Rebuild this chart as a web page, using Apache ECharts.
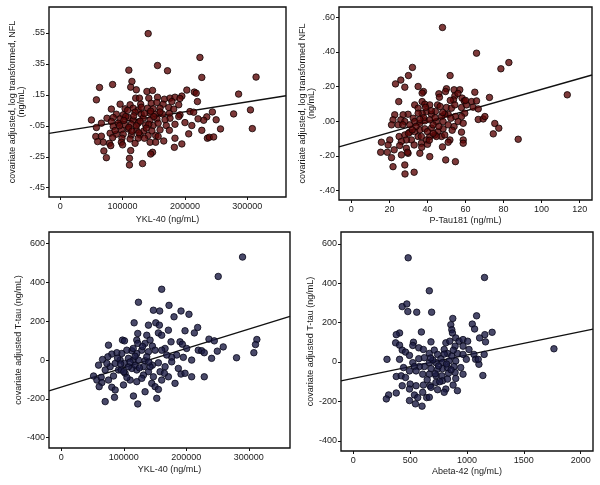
<!DOCTYPE html>
<html><head><meta charset="utf-8">
<script src="https://cdn.jsdelivr.net/npm/echarts@6/dist/echarts.min.js"></script>
<style>html,body{margin:0;padding:0;background:#fff}#c{width:600px;height:485px}</style>
</head><body><div id="c"></div>
<script>
// ---- Panel 1: YKL-40 vs NFL ----
const p1_ykl = [224000,156000,172000,110000,227000,115000,63000,84000,113000,122000,139000,148000,203000,215000,218000,58000,121000,127000,142000,156000,167000,176000,184000,195000,192000,220000,96000,112000,129000,146000,155000,165000,179000,190000,82000,104000,117000,125000,140000,149000,160000,174000,182000,208000,120000,130000,144000,153000,164000,175000,192000,214000,235000,230000,90000,101000,75000,85000,96000,109000,117000,133000,144000,155000,176000,190000,200000,221000,50000,66000,82000,93000,104000,114000,125000,137000,149000,157000,170000,184000,211000,58000,85000,98000,109000,122000,134000,147000,160000,175000,227000,80000,90000,101000,114000,128000,141000,153000,57000,66000,84000,99000,112000,125000,157000,166000,184000,195000,206000,236000,69000,79000,98000,120000,144000,153000,81000,100000,183000,60000,70000,113000,148000,145000,74000,111000,111000,132000,141000,244000,278000,305000,250000,257000,308000,239000,246000,286000,314000,105000,118000,128000,135000,142000,150000,110000,122000,138000,95000,102000,115000,130000,145000,160000,168000,88000,126000,135000,108000];
const p1_nfl = [0.392,0.340,0.306,0.310,0.263,0.237,0.198,0.217,0.200,0.183,0.172,0.179,0.181,0.168,0.161,0.118,0.129,0.129,0.129,0.135,0.122,0.129,0.135,0.142,0.127,0.107,0.090,0.086,0.090,0.096,0.101,0.090,0.107,0.086,0.058,0.060,0.064,0.053,0.064,0.060,0.064,0.068,0.058,0.042,0.038,0.025,0.032,0.025,0.027,0.030,0.021,0.038,0.008,-0.014,0.025,0.021,-0.001,0.004,-0.005,0.004,-0.012,-0.001,-0.012,-0.005,-0.001,0.010,-0.029,-0.005,-0.012,-0.033,-0.022,-0.033,-0.044,-0.040,-0.033,-0.044,-0.048,-0.033,-0.048,-0.040,-0.048,-0.061,-0.054,-0.076,-0.070,-0.076,-0.083,-0.083,-0.076,-0.079,-0.079,-0.098,-0.104,-0.104,-0.109,-0.109,-0.113,-0.113,-0.119,-0.117,-0.126,-0.130,-0.135,-0.130,-0.119,-0.148,-0.130,-0.167,-0.102,-0.130,-0.156,-0.163,-0.156,-0.163,-0.156,-0.156,-0.178,-0.173,-0.189,-0.152,-0.212,-0.210,-0.221,-0.232,-0.256,-0.260,-0.303,-0.294,0.546,0.040,0.027,0.053,-0.011,-0.070,-0.068,-0.124,-0.122,0.155,0.265,0.010,0.015,-0.020,0.030,-0.040,0.010,-0.060,-0.050,-0.065,-0.050,-0.015,-0.085,0.070,0.045,0.040,-0.010,-0.080,-0.095,-0.130,0.050];
const p1_fit = [[-18000,-0.099],[362000,0.144]];
const p1_xticks = [0,100000,200000,300000];
const p1_yticks = [-0.45,-0.25,-0.05,0.15,0.35,0.55];

// ---- Panel 2: P-Tau181 vs NFL ----
const p2_ptau = [78.6,32.1,30.0,26.0,23.2,28.1,51.9,35.1,37.9,37.2,24.9,46.0,46.3,50.0,49.5,54.0,57.0,64.9,54.4,53.7,58.2,59.3,63.2,65.8,72.6,33.3,35.1,37.2,38.6,41.2,45.3,46.7,50.0,52.6,50.9,54.4,57.9,60.5,64.0,66.7,59.6,57.9,54.7,52.3,49.1,47.4,44.2,42.1,39.5,37.2,35.1,32.5,29.8,27.2,26.0,22.8,21.9,21.1,24.6,28.1,30.7,33.3,36.0,38.6,41.2,44.7,48.2,50.9,54.0,56.1,58.8,66.7,69.3,70.2,75.4,74.6,77.5,25.1,28.1,30.7,33.3,36.0,38.6,42.1,45.6,48.2,53.0,57.9,58.8,58.8,51.8,47.4,43.9,41.2,39.5,35.1,31.6,28.9,26.3,20.2,19.3,15.8,15.4,18.9,22.5,21.1,25.4,28.9,33.0,36.8,40.0,29.8,36.0,41.2,26.3,47.9,50.9,49.6,54.7,21.9,28.1,28.2,33.0,29.5,44.7,36.8,43.0,49.1,47.9,65.8,82.8,113.5,87.7,38,40,42,36,44,46,34,39,41,37,43,48,52,56,60,30,32,27];
const p2_nfl = [0.302,0.310,0.263,0.237,0.215,0.196,0.263,0.200,0.171,0.162,0.113,0.158,0.138,0.187,0.171,0.181,0.181,0.167,0.146,0.123,0.133,0.117,0.113,0.117,0.137,0.094,0.075,0.113,0.098,0.094,0.094,0.085,0.079,0.075,0.040,0.094,0.079,0.094,0.081,0.071,0.046,0.027,0.027,0.017,0.040,0.027,0.056,0.040,0.056,0.044,0.046,0.017,0.040,0.037,0.008,0.037,0.008,-0.021,-0.021,-0.002,-0.021,-0.002,-0.012,0.002,0.008,-0.002,-0.002,-0.021,-0.031,-0.002,-0.012,0.010,0.013,0.027,-0.013,-0.073,-0.040,-0.088,-0.079,-0.063,-0.060,-0.050,-0.044,-0.040,-0.060,-0.044,-0.052,-0.063,-0.108,-0.127,-0.108,-0.088,-0.079,-0.088,-0.108,-0.088,-0.108,-0.108,-0.117,-0.108,-0.137,-0.121,-0.179,-0.179,-0.165,-0.210,-0.140,-0.156,-0.137,-0.127,-0.133,-0.185,-0.185,-0.204,-0.194,-0.148,-0.121,-0.223,-0.233,-0.262,-0.252,-0.304,-0.294,-0.179,-0.088,-0.088,-0.021,-0.079,0.540,0.392,0.338,0.152,-0.104,0.02,-0.06,0.06,0.01,0.02,-0.03,-0.03,0.08,-0.11,-0.15,-0.07,0.05,0.12,0.16,0.12,-0.07,-0.05,-0.02];
const p2_fit = [[-6.5,-0.148],[126.5,0.266]];
const p2_xticks = [0,20,40,60,80,100,120];
const p2_yticks = [-0.4,-0.2,0,0.2,0.4,0.6];

// ---- Panel 3: YKL-40 vs T-tau ----
const p3_ykl = [160600,123400,172300,147300,157400,191500,204200,116500,151100,156900,180300,139400,171300,197900,212800,218100,122300,136700,97900,75500,101100,120700,122300,134000,142000,145700,155300,160600,166000,175500,189900,193600,200500,236200,244700,219100,224500,228700,240400,208500,195200,184600,176600,168600,160600,150000,139400,128700,120700,112800,104800,96800,88800,80800,74500,66000,59600,51600,56900,63800,70200,78200,86200,94100,101100,107400,115400,123400,134000,145700,155300,166000,176600,187200,191500,181900,197900,208500,228700,171300,158000,147300,139400,131400,120700,112800,102100,91500,83500,75500,64900,60600,80800,86200,99500,110100,120700,128700,144700,150000,155300,134000,115400,85100,70200,122300,152700,160600,164900,142000,107400,95700,72900,118100,136700,131400,289900,251000,312800,310600,308000,280300,259000,249500,110000,118000,125000,100000,90000,105000,130000,140000,95000,115000];
const p3_ttau = [365,298,282,257,253,253,236,192,192,180,223,180,154,151,140,168,137,128,103,77,99,103,86,86,103,72,140,128,60,94,94,82,60,108,99,51,48,38,9,0,14,26,14,26,51,51,43,51,34,48,51,34,38,31,17,3,-26,-82,-103,-89,-51,-34,-17,0,-17,9,0,0,-3,-26,-14,-34,-9,-43,-72,-120,-68,-86,-86,-86,-60,-86,-60,-77,-51,-43,-68,-51,-82,-103,-116,-137,-140,-154,-128,-103,-111,-94,-120,-137,-151,-163,-185,-192,-214,-226,-197,-103,-68,-34,-34,-51,-17,-26,17,-34,531,431,106,80,38,12,68,46,-10,20,-40,-60,10,-90,70,-10,-20,60];
const p3_fit = [[-19650,-158.6],[365800,225.6]];
const p3_xticks = [0,100000,200000,300000];
const p3_yticks = [-400,-200,0,200,400,600];

// ---- Panel 4: Abeta-42 vs T-tau ----
const p4_abeta = [668.6,430.2,470.9,479.7,558.1,689.0,598.8,875.0,1084.3,857.6,1046.5,1066.9,866.3,872.1,1157.0,1220.9,1110.5,1162.8,407.0,377.9,372.1,407.0,430.2,529.1,523.3,575.6,616.3,683.1,814.0,799.4,848.8,901.2,930.2,965.1,1005.8,895.4,965.1,1017.5,1061.1,1151.2,1075.6,1104.7,1139.5,1098.8,296.5,407.0,459.3,441.9,494.2,523.3,575.6,625.0,668.6,712.2,741.3,770.4,828.5,866.3,915.7,965.1,994.2,901.2,843.0,784.9,726.8,668.6,625.0,581.4,537.8,683.1,741.3,784.9,828.5,886.6,944.8,965.1,895.4,837.2,779.1,726.8,668.6,610.5,552.3,494.2,377.9,421.5,459.3,500.0,430.2,494.2,552.3,616.3,674.4,726.8,784.9,828.5,901.2,877.9,814.0,741.3,683.1,610.5,537.8,566.9,645.4,668.6,494.2,546.5,604.7,311.0,290.7,377.9,799.4,915.7,482.6,1154,1764.5,700,750,820,680,720,800,860,760,650,880];
const p4_ttau = [361.6,281.2,294.6,256.1,252.8,252.8,152.3,221.0,234.4,189.2,192.5,167.4,164.1,147.3,138.9,150.7,122.2,102.1,147.3,138.9,97.1,85.4,60.3,100.4,83.7,72.0,63.6,102.1,97.1,63.6,105.5,122.2,105.5,113.8,105.5,80.4,80.4,63.6,38.5,38.5,13.4,-11.7,-68.6,13.4,13.4,13.4,50.2,-28.5,33.5,-3.3,16.7,21.8,43.5,60.3,38.5,16.7,43.5,30.1,43.5,38.5,13.4,5.0,5.0,-3.3,-3.3,-3.3,-23.4,-23.4,-23.4,-33.5,-36.8,-33.5,-28.5,-23.4,-28.5,-61.9,-53.6,-56.9,-70.3,-70.3,-61.9,-61.9,-45.2,-45.2,-73.7,-70.3,-78.7,-112.2,-120.5,-137.3,-120.5,-117.2,-120.5,-103.8,-95.4,-87.0,-83.7,-117.2,-137.3,-140.6,-128.9,-154.0,-167.4,-180.8,-180.8,-179.1,-195.9,-212.6,-224.3,-167.4,-187.5,-157.4,-154.0,-145.6,529,429,67,10,-20,-10,20,-60,40,-40,-100,-90,60];
const p4_fit = [[-108,-95.7],[2108,166.8]];
const p4_xticks = [0,500,1000,1500,2000];
const p4_yticks = [-400,-200,0,200,400,600];

const xTitles = ['YKL-40 (ng/mL)','P-Tau181 (ng/mL)','YKL-40 (ng/mL)','Abeta-42 (ng/mL)'];
const yTitles = ['covariate adjusted, log transformed, NFL\n(ng/mL)','covariate adjusted, log transformed NFL\n(ng/mL)','covariate adjusted T-tau (ng/mL)','covariate adjusted T-tau (ng/mL)'];

const FONT = '"Liberation Sans", Arial, sans-serif';
const txt = {fontFamily: FONT, fontSize: 9, color: '#1a1a1a'};
const decFmt = v => { const s = (Math.round(v*100)/100).toFixed(2); return s.replace('0.', '.'); };

function pairs(xs, ys){ return xs.map((x,i)=>[x, ys[i]]); }

const grids = [
  {left:49, top:7, width:237, height:190},
  {left:339, top:7, width:253, height:193},
  {left:49, top:232, width:241, height:216},
  {left:341, top:232, width:252, height:219}
].map(g => Object.assign(g, {show:true, borderColor:'#111', borderWidth:1.4, backgroundColor:'#fff'}));

const xr = [[-18000,362000],[-6.5,126.5],[-19650,365800],[-108,2108]];
const yr = [[-0.51,0.718],[-0.454,0.658],[-453,660],[-452,660]];
const xt = [p1_xticks,p2_xticks,p3_xticks,p4_xticks];
const yt = [p1_yticks,p2_yticks,p3_yticks,p4_yticks];
const xGap = [18,16,17,16];
const yGap = [23,12,25,17];

const xAxis = [0,1,2,3].map(i => ({
  type:'value', gridIndex:i, min:xr[i][0], max:xr[i][1], position:'bottom',
  name:xTitles[i], nameLocation:'middle', nameGap:xGap[i], nameTextStyle:Object.assign({}, txt),
  splitLine:{show:false}, axisLine:{show:false, onZero:false},
  axisTick:{show:true, customValues:xt[i], length:3, inside:false, lineStyle:{color:'#111'}},
  axisLabel:Object.assign({customValues:xt[i], margin:5, formatter: v => String(v)}, txt)
}));
const yAxis = [0,1,2,3].map(i => ({
  type:'value', gridIndex:i, min:yr[i][0], max:yr[i][1], position:'left',
  name:yTitles[i], nameLocation:'middle', nameGap:yGap[i], nameRotate:90,
  nameTextStyle:Object.assign({lineHeight:9}, txt),
  splitLine:{show:false}, axisLine:{show:false, onZero:false},
  axisTick:{show:true, customValues:yt[i], length:3, lineStyle:{color:'#111'}},
  axisLabel:Object.assign({customValues:yt[i], margin:4, formatter: i<2 ? decFmt : (v => String(v))}, txt)
}));

const red = {color:'#5c0808', borderColor:'#100202', borderWidth:1};
const navy = {color:'#1b1b44', borderColor:'#08081a', borderWidth:1};
const sets = [
  [pairs(p1_ykl,p1_nfl), p1_fit, red],
  [pairs(p2_ptau,p2_nfl), p2_fit, red],
  [pairs(p3_ykl,p3_ttau), p3_fit, navy],
  [pairs(p4_abeta,p4_ttau), p4_fit, navy]
];
const series = [];
sets.forEach((s,i) => {
  series.push({type:'line', xAxisIndex:i, yAxisIndex:i, data:s[1], symbol:'none', silent:true,
    lineStyle:{color:'#111', width:1.4}, z:1, animation:false});
  series.push({type:'scatter', xAxisIndex:i, yAxisIndex:i, data:s[0], symbolSize:6.5,
    itemStyle:s[2], z:2, animation:false});
});

const chart = echarts.init(document.getElementById('c'), null, {renderer:'canvas'});
chart.setOption({backgroundColor:'#fff', animation:false, grid:grids, xAxis, yAxis, series});
</script></body></html>
